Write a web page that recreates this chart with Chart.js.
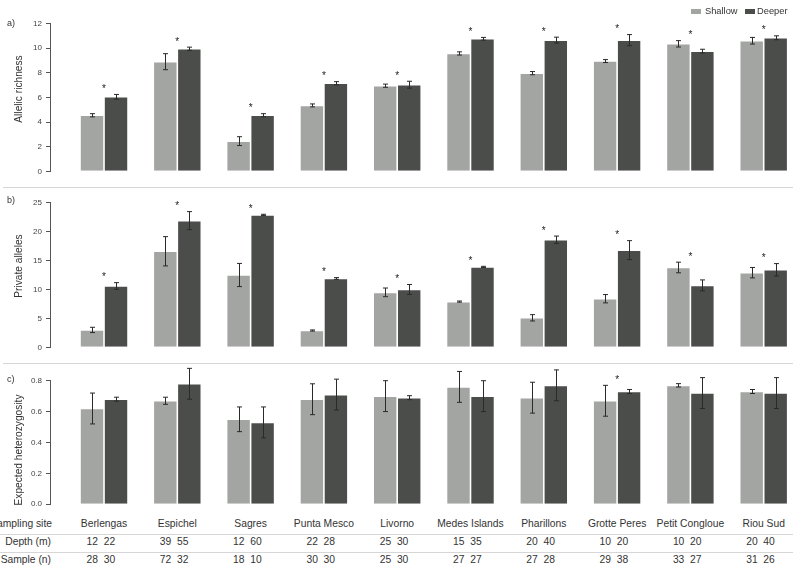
<!DOCTYPE html>
<html>
<head>
<meta charset="utf-8">
<script src="https://cdn.jsdelivr.net/npm/chart.js@4/dist/chart.umd.min.js"></script>
<style>
  body { margin: 0; background: #fff; font-family: "Liberation Sans", Arial, sans-serif; }
  #wrap { position: relative; width: 798px; height: 579px; overflow: hidden; }
  canvas { position: absolute; left: 0; }
  .txt { position: absolute; white-space: pre; color: #333; font-size: 10.3px; line-height: 12px; }
  .ytitle { position: absolute; white-space: nowrap; color: #333; font-size: 10.2px;
            transform: translate(-50%, -50%) rotate(-90deg); }
  .lab { position: absolute; left: 7px; font-size: 9px; color: #333; transform: translateY(-50%); }
  .rule { position: absolute; height: 1px; background: #d6d6d6; }
  .key { position: absolute; top: 9px; width: 10px; height: 5px; }
</style>
</head>
<body>
<div id="wrap">
  <canvas id="richChart" width="798" height="187" style="top:0px"></canvas>
  <canvas id="privChart" width="798" height="174" style="top:188px"></canvas>
  <canvas id="hetChart" width="798" height="148" style="top:365px"></canvas>

  <div class="rule" style="left:3px; width:790px; top:187px"></div>
  <div class="rule" style="left:3px; width:790px; top:363px"></div>
  <div class="rule" style="left:0px; width:793px; top:534px"></div>
  <div class="rule" style="left:0px; width:793px; top:552px"></div>

  <div class="lab" style="top:23px">a)</div>
  <div class="lab" style="top:200px">b)</div>
  <div class="lab" style="top:379px">c)</div>

  <div class="ytitle" style="left:18px; top:89px">Allelic richness</div>
  <div class="ytitle" style="left:18px; top:266px">Private alleles</div>
  <div class="ytitle" style="left:18px; top:450px">Expected heterozygosity</div>

  <div class="key" style="left:691px; background:#a3a5a2"></div>
  <div class="txt" style="left:705px; top:5px; font-size:9.3px">Shallow</div>
  <div class="key" style="left:745px; background:#4b4d4b"></div>
  <div class="txt" style="left:757px; top:5px; font-size:9.3px">Deeper</div>
</div>

<script>
// sites along the x axis
const sites = ["Berlengas", "Espichel", "Sagres", "Punta Mesco", "Livorno",
               "Medes Islands", "Pharillons", "Grotte Peres", "Petit Congloue", "Riou Sud"];
const depthShallow = [12, 39, 12, 22, 25, 15, 20, 10, 10, 20];
const depthDeeper  = [22, 55, 60, 28, 30, 35, 40, 20, 20, 40];
const sampleShallow = [28, 72, 18, 30, 25, 27, 27, 29, 33, 31];
const sampleDeeper  = [30, 32, 10, 30, 30, 27, 28, 38, 27, 26];

// a) allelic richness
const richShallow   = [4.55, 8.9, 2.45, 5.35, 6.95, 9.57, 7.97, 8.95, 10.35, 10.6];
const richShallowSE = [0.13, 0.65, 0.36, 0.12, 0.13, 0.13, 0.13, 0.12, 0.26, 0.27];
const richDeeper    = [6.05, 9.95, 4.55, 7.15, 7.03, 10.76, 10.65, 10.65, 9.76, 10.84];
const richDeeperSE  = [0.19, 0.13, 0.13, 0.13, 0.28, 0.11, 0.24, 0.45, 0.15, 0.16];
const richSig = [true, true, true, true, true, true, true, true, true, true];

// b) private alleles
const privShallow   = [3.0, 16.6, 12.5, 2.9, 9.5, 7.9, 5.1, 8.4, 13.8, 12.9];
const privShallowSE = [0.46, 2.53, 2.0, 0.1, 0.75, 0.1, 0.55, 0.72, 0.92, 0.9];
const privDeeper    = [10.6, 21.9, 22.9, 11.9, 10.0, 13.9, 18.6, 16.8, 10.7, 13.4];
const privDeeperSE  = [0.58, 1.56, 0.1, 0.15, 0.86, 0.1, 0.63, 1.64, 0.95, 1.07];
const privSig = [true, true, true, true, true, true, true, true, true, true];

// c) expected heterozygosity
const hetShallow   = [0.62, 0.67, 0.55, 0.68, 0.70, 0.76, 0.69, 0.67, 0.77, 0.73];
const hetShallowSE = [0.10, 0.023, 0.08, 0.10, 0.10, 0.10, 0.10, 0.10, 0.011, 0.013];
const hetDeeper    = [0.68, 0.78, 0.53, 0.71, 0.69, 0.70, 0.77, 0.73, 0.72, 0.72];
const hetDeeperSE  = [0.013, 0.10, 0.10, 0.10, 0.013, 0.10, 0.10, 0.013, 0.10, 0.10];
const hetSig = [false, false, false, false, false, false, false, true, false, false];

const SHALLOW = "#a3a5a2";
const DEEPER = "#4b4d4b";

// error bars + significance stars
const errorBars = {
    id: "errorBars",
    afterDatasetsDraw(chart, args, opts) {
        const { ctx, scales: { x, y } } = chart;
        ctx.save();
        ctx.strokeStyle = "#2a2a2a";
        ctx.lineWidth = 1;
        const tops = [];
        chart.data.datasets.forEach((ds, d) => {
            chart.getDatasetMeta(d).data.forEach((bar, i) => {
                const v = ds.data[i].y, e = ds.errors[i];
                const top = y.getPixelForValue(v + e);
                const bot = y.getPixelForValue(v - e);
                tops[i] = Math.min(tops[i] ?? Infinity, top);
                const bx = Math.round(bar.x) + 0.5;
                ctx.beginPath();
                ctx.moveTo(bx, top); ctx.lineTo(bx, bot);
                ctx.moveTo(bx - 2.5, top); ctx.lineTo(bx + 2.5, top);
                ctx.moveTo(bx - 2.5, bot); ctx.lineTo(bx + 2.5, bot);
                ctx.stroke();
            });
        });
        ctx.fillStyle = "#222";
        ctx.font = "10px 'Liberation Sans', Arial, sans-serif";
        ctx.textAlign = "center";
        ctx.textBaseline = "alphabetic";
        (opts.sig || []).forEach((s, i) => {
            if (s) ctx.fillText("*", x.getPixelForValue(i), tops[i] - 2.5);
        });
        ctx.restore();
    },
};

function makePanel(id, shallow, shallowSE, deeper, deeperSE, sig, yMax, step, pad, fmt) {
    const bar = (label, vals, se, color) => ({
        label: label,
        data: vals.map((v, i) => ({ x: i, y: v })),
        errors: se,
        backgroundColor: color,
        borderColor: "rgba(255,255,255,0.6)",
        borderWidth: 0.8,
        categoryPercentage: 0.655,
        barPercentage: 1,
    });
    return new Chart(document.getElementById(id), {
        type: "bar",
        data: {
            datasets: [
                bar("Shallow", shallow, shallowSE, SHALLOW),
                bar("Deeper", deeper, deeperSE, DEEPER),
            ],
        },
        options: {
            responsive: false,
            animation: false,
            layout: { padding: { top: pad[0], bottom: pad[1], left: 0, right: 0 } },
            plugins: {
                legend: { display: false },
                tooltip: { enabled: false },
                errorBars: { sig: sig },
            },
            scales: {
                x: {
                    type: "linear",
                    display: false,
                    offset: false,
                    min: -0.737,
                    max: 9.468,
                    afterBuildTicks: (s) => { s.ticks = sites.map((_, i) => ({ value: i })); },
                },
                y: {
                    min: 0,
                    max: yMax,
                    afterFit: (s) => { s.width = 50; },
                    ticks: {
                        stepSize: step,
                        color: "#444",
                        padding: 4,
                        font: { size: 8, family: "'Liberation Sans', Arial, sans-serif" },
                        callback: fmt,
                    },
                    grid: { drawOnChartArea: false, drawTicks: true, tickLength: 4, color: "#555" },
                    border: { color: "#555", width: 1 },
                },
            },
        },
        plugins: [errorBars],
    });
}

const richChart = makePanel("richChart", richShallow, richShallowSE, richDeeper, richDeeperSE,
    richSig, 12, 2, [23.5, 15.7], (v) => v);
const privChart = makePanel("privChart", privShallow, privShallowSE, privDeeper, privDeeperSE,
    privSig, 25, 5, [14.7, 14.7], (v) => v);
const hetChart = makePanel("hetChart", hetShallow, hetShallowSE, hetDeeper, hetDeeperSE,
    hetSig, 0.8, 0.2, [15.7, 8.7], (v) => v.toFixed(1));

// table under the bottom panel
const wrap = document.getElementById("wrap");
function addText(str, left, top, align) {
    const el = document.createElement("div");
    el.className = "txt";
    el.textContent = str;
    el.style.top = top + "px";
    if (align === "right") {
        el.style.right = (798 - left) + "px";
    } else if (align === "center") {
        el.style.left = left + "px";
        el.style.transform = "translateX(-50%)";
    } else {
        el.style.left = left + "px";
    }
    wrap.appendChild(el);
}
addText("Sampling site", 52, 518, "right");
addText("Depth (m)", 51, 536, "right");
addText("Sample (n)", 51, 554, "right");
const xs = hetChart.scales.x;
sites.forEach((s, i) => {
    const cx = xs.getPixelForValue(i);
    addText(s, cx, 518, "center");
    addText(depthShallow[i] + "  " + depthDeeper[i], cx - 17.5, 536);
    addText(sampleShallow[i] + "  " + sampleDeeper[i], cx - 17.5, 554);
});
</script>
</body>
</html>
